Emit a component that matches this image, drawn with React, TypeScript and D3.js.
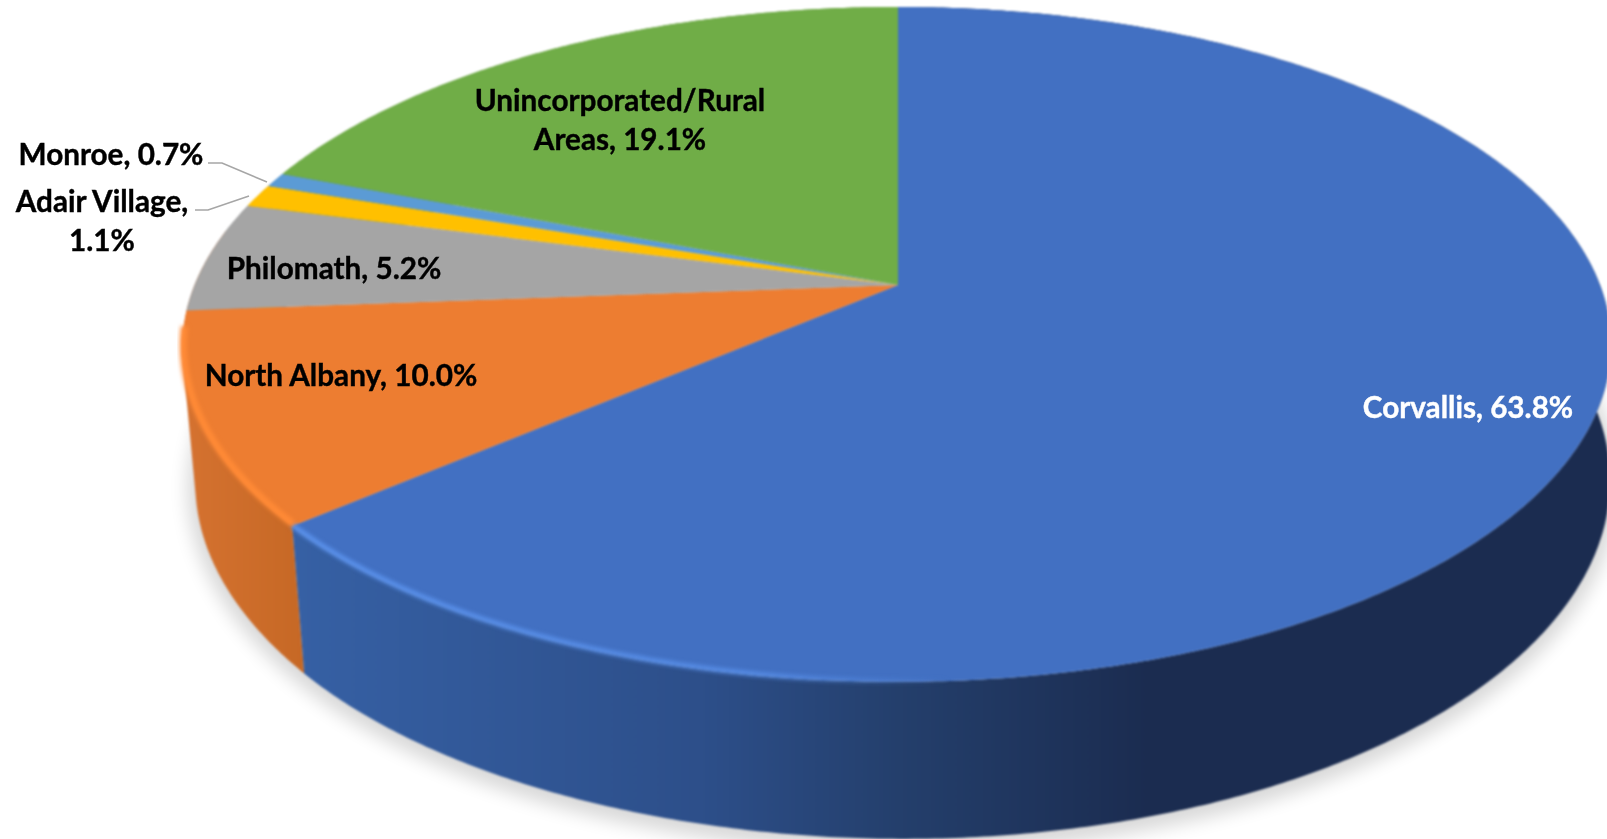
import React from "react";
import * as d3 from "d3";

const categories = ["Corvallis", "North Albany", "Philomath", "Adair Village", "Monroe", "Unincorporated/Rural Areas"];
const shares = [63.8, 10.0, 5.2, 1.1, 0.7, 19.1];
const faceColors = ["#4270C2", "#ED7D31", "#A5A5A5", "#FFC000", "#5B9BD5", "#70AD47"];
const wallColors = ["url(#blueWall)", "url(#orangeWall)", "#8C8C8C", "#D9A300", "#4D84B5", "#5F933C"];

const W = 1607, H = 839;
const rad = (deg: number) => (deg * Math.PI) / 180;
// projection of the unit disc to the tilted face
const cx = 898, cy = 285, persp = -0.176, kx = 702, ky = 327;
// small local bulge of the rim on the lower left of the picture
const bump = (a: number, from: number, to: number) => {
  const t = (a - rad(from)) / (rad(to) - rad(from));
  return t <= 0 || t >= 1 ? 0 : Math.sin(Math.PI * t) ** 2;
};
const project = (a: number): [number, number] => {
  const u = Math.sin(a), v = -Math.cos(a);
  const d = 1 + persp * v;
  return [cx + (kx * u) / d - 2.5 * bump(a, 230, 291), cy + (ky * v) / d + 4 * bump(a, 190, 291)];
};
// lower rim: the upper ellipse moved to its own centre and radii
const lowerX = d3.scaleLinear().domain([893, 893 + 713]).range([899, 899 + 706]);
const lowerY = d3.scaleLinear().domain([344, 344 + 337]).range([480, 480 + 358]);
const projectLow = (a: number): [number, number] => {
  const [x, y] = project(a);
  return [lowerX(x), lowerY(y)];
};

const arcs = d3.pie<number>().sort(null).value((d) => d)(shares);
const line = d3.line();
const sample = (a0: number, a1: number) => {
  const n = Math.max(4, Math.ceil(Math.abs(a1 - a0) * 120));
  return d3.range(n + 1).map((i) => a0 + ((a1 - a0) * i) / n);
};
const facePath = (a0: number, a1: number) => line([[cx, cy], ...sample(a0, a1).map(project)]) + "Z";
const wallPoints = (a0: number, a1: number) => [...sample(a0, a1).map(project), ...sample(a1, a0).map(projectLow)];
const wallPath = (a0: number, a1: number) => line(wallPoints(a0, a1)) + "Z";
const wallHull = (a0: number, a1: number) => line(d3.polygonHull(wallPoints(a0, a1)) || []) + "Z";
const rimPath = (a0: number, a1: number) => line(sample(a0, a1).map(project)) || "";
const fullRim = line(sample(0, Math.PI * 2).map(projectLow)) + "Z";

const labels = [
  { lines: ["Corvallis, 63.8%"], x: 1468, y: 410, fill: "#fff" },
  { lines: ["North Albany, 10.0%"], x: 341, y: 378, fill: "#000" },
  { lines: ["Philomath, 5.2%"], x: 334, y: 271, fill: "#000" },
  { lines: ["Adair Village,", "1.1%"], x: 102, y: 204, fill: "#000" },
  { lines: ["Monroe, 0.7%"], x: 111, y: 157, fill: "#000" },
  { lines: ["Unincorporated/Rural", "Areas, 19.1%"], x: 620, y: 103, fill: "#000" },
];
const leaders: [number, number][][] = [
  [[195, 210], [208, 210], [249, 196]],
  [[208, 163], [222, 163], [267, 182]],
];

export default function App() {
  const blue = arcs[0], orange = arcs[1];
  return (
    <svg width={W} height={H} viewBox={`0 0 ${W} ${H}`} style={{ position: "absolute", left: 0, top: 0, background: "#fff" }}>
      <defs>
        <filter id="shadow" x="-10%" y="-10%" width="120%" height="130%" colorInterpolationFilters="sRGB"><feGaussianBlur stdDeviation="9" /></filter>
        <filter id="glow" x="-5%" y="-5%" width="110%" height="110%" colorInterpolationFilters="sRGB"><feGaussianBlur stdDeviation="2.2" /></filter>
        <filter id="soft" x="-2%" y="-2%" width="104%" height="104%" colorInterpolationFilters="sRGB"><feGaussianBlur stdDeviation="0.9" /></filter>
        <filter id="textSoft" x="-5%" y="-20%" width="110%" height="140%" colorInterpolationFilters="sRGB"><feGaussianBlur stdDeviation="0.3" /></filter>
        <linearGradient id="blueWall" gradientUnits="userSpaceOnUse" x1="300" x2="1607" y1="0" y2="0">
          <stop offset="0" stopColor="#3660A4" />
          <stop offset="0.306" stopColor="#2D4F8A" />
          <stop offset="0.459" stopColor="#243F6C" />
          <stop offset="0.65" stopColor="#1B2C50" />
          <stop offset="1" stopColor="#1B2C50" />
        </linearGradient>
        <linearGradient id="orangeWall" gradientUnits="userSpaceOnUse" x1="185" x2="305" y1="0" y2="0">
          <stop offset="0" stopColor="#D57230" />
          <stop offset="1" stopColor="#C66825" />
        </linearGradient>
        <linearGradient id="blueGlow" gradientUnits="userSpaceOnUse" x1="300" x2="950" y1="0" y2="0">
          <stop offset="0" stopColor="#5B93EE" stopOpacity="1" />
          <stop offset="0.7" stopColor="#5B93EE" stopOpacity="0.8" />
          <stop offset="1" stopColor="#5B93EE" stopOpacity="0" />
        </linearGradient>
      </defs>
      <path d={fullRim} transform="translate(0,5)" fill="#000" stroke="#000" strokeWidth={16} opacity={0.15} filter="url(#shadow)" />
      <g filter="url(#soft)">
        {arcs.slice().reverse().map((d) => (
          <path key={"w" + categories[d.index]}
            d={d.index === 1 ? wallHull(d.startAngle, d.endAngle + rad(14)) : wallPath(d.startAngle, d.endAngle)}
            fill={wallColors[d.index]} />
        ))}
        {arcs.map((d, i) => (
          <path key={"f" + categories[i]} d={facePath(d.startAngle, d.endAngle)} fill={faceColors[i]} />
        ))}
      </g>
      <path d={rimPath(blue.startAngle + 2.2, blue.endAngle)} transform="translate(0,-1)" fill="none" stroke="url(#blueGlow)" strokeWidth={5} filter="url(#glow)" />
      <path d={rimPath(orange.startAngle, orange.endAngle - rad(3))} transform="translate(1,-2)" fill="none" stroke="#FF8A36" strokeWidth={7} filter="url(#glow)" />
      {leaders.map((pts, i) => (
        <path key={i} d={line(pts) || ""} fill="none" stroke="#A6A6A6" strokeWidth={1.6} />
      ))}
      {labels.map((l) => (
        <text key={l.lines[0]} x={l.x} y={l.y} textAnchor="middle" dominantBaseline="middle" fill={l.fill}
          stroke={l.fill} strokeWidth={0.4} filter="url(#textSoft)"
          style={{ fontFamily: "Lato, sans-serif", fontWeight: 700, fontSize: 29.7 }}>
          {l.lines.map((t, j) => (
            <tspan key={t} x={l.x} dy={j === 0 ? 0 : 39}>{t}</tspan>
          ))}
        </text>
      ))}
    </svg>
  );
}
